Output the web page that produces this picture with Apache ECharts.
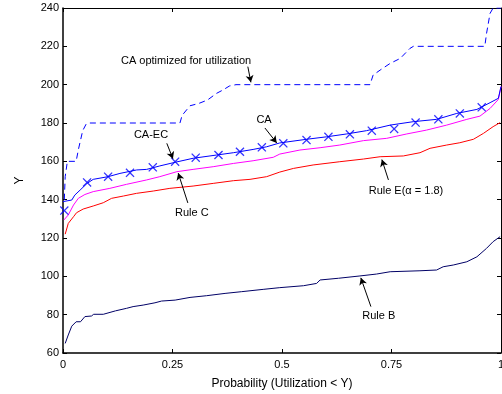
<!DOCTYPE html>
<html>
<head>
<meta charset="utf-8">
<script src="https://cdn.jsdelivr.net/npm/echarts@6/dist/echarts.min.js"></script>
<style>html,body{margin:0;padding:0;background:#fff}#c{width:502px;height:394px}</style>
</head>
<body>
<div id="c"></div>
<script>
// ---- data (x = probability, y = Y) ----
const xTicks = [0, 0.25, 0.5, 0.75, 1];
const yTicks = [60, 80, 100, 120, 140, 160, 180, 200, 220, 240];

const ruleB = [[0.005,65],[0.012,69.4],[0.02,74],[0.03,76.3],[0.04,76.3],[0.05,79],[0.065,79.3],[0.07,80.2],[0.092,80.2],[0.096,81.2],[0.12,82],[0.145,83.3],[0.16,84.2],[0.183,85],[0.21,86.2],[0.225,87.1],[0.256,87.6],[0.29,89],[0.328,89.9],[0.37,91.1],[0.408,92],[0.457,93.2],[0.495,94.1],[0.549,95.1],[0.579,96.3],[0.587,98.1],[0.629,99],[0.678,100.2],[0.716,101.2],[0.747,102.4],[0.815,102.9],[0.853,103.3],[0.868,105],[0.891,105.9],[0.922,107.6],[0.945,110.2],[0.967,114.6],[0.982,118.1],[0.998,120.7]];

const ruleE = [[0.005,122],[0.012,127.6],[0.024,131.1],[0.031,133.2],[0.046,135.1],[0.069,136.7],[0.092,138.4],[0.111,140.7],[0.138,141.9],[0.168,143.3],[0.206,144.5],[0.244,145.9],[0.297,147.1],[0.343,148.5],[0.389,149.9],[0.427,150.6],[0.465,152],[0.495,154.4],[0.526,156.3],[0.571,158.1],[0.632,159.8],[0.686,161.2],[0.724,162.4],[0.777,162.8],[0.815,164.5],[0.838,166.8],[0.876,168.5],[0.906,169.7],[0.937,171.5],[0.96,174.6],[0.982,178.1],[0.998,180.2]];

const ruleC = [[0.002,129.4],[0.012,132],[0.024,137.2],[0.035,140.7],[0.05,142.7],[0.069,144.2],[0.107,145.9],[0.145,148],[0.191,150.3],[0.221,152],[0.26,154.6],[0.297,155.8],[0.343,157.2],[0.389,158.9],[0.434,160.3],[0.48,162.1],[0.495,163.8],[0.541,165.9],[0.587,167.1],[0.632,168.5],[0.686,170.8],[0.739,172],[0.785,174.3],[0.83,176.3],[0.876,178.9],[0.922,181.9],[0.952,183.6],[0.975,187.6],[0.994,192.3],[1,199]];

const ca = [[0,139],[0.02,139.8],[0.027,142.4],[0.039,145],[0.055,148.5],[0.069,150.6],[0.103,152],[0.13,153.7],[0.168,155.5],[0.191,155.8],[0.221,157.6],[0.256,159.5],[0.297,161.6],[0.351,163.3],[0.389,164.5],[0.434,166.2],[0.465,167.6],[0.495,169.6],[0.556,171.5],[0.602,172.8],[0.648,174.3],[0.693,176],[0.747,178.9],[0.8,180.7],[0.853,181.9],[0.899,185],[0.945,187.1],[0.975,190.6],[0.994,192.9],[1,199]];

const caEC = [[0.003,134.3],[0.055,149],[0.103,152],[0.153,154],[0.205,156.9],[0.256,159.8],[0.303,161.9],[0.355,163.3],[0.404,165],[0.454,167.3],[0.503,169.4],[0.556,171.1],[0.606,172.8],[0.655,174.1],[0.705,176],[0.756,176.9],[0.805,180.2],[0.857,181.9],[0.906,185],[0.956,188.2]];

const caOpt = [[0.003,140],[0.005,152],[0.01,160],[0.03,160],[0.035,166],[0.045,176],[0.053,179.5],[0.06,180],[0.267,180],[0.272,184],[0.29,189],[0.31,190.2],[0.33,192],[0.35,195.4],[0.365,197.2],[0.38,199.3],[0.395,200],[0.701,200],[0.708,205],[0.724,207.6],[0.747,211.1],[0.77,213.7],[0.792,218.9],[0.8,220],[0.963,220],[0.967,226.7],[0.975,237.2],[0.982,240],[1,240]];

// annotation texts and arrows (data coordinates)
const annTexts = [
  {t:'CA optimized for utilization', p:[0.281,212.5]},
  {t:'CA-EC', p:[0.201,173.7]},
  {t:'CA', p:[0.459,181.6]},
  {t:'Rule C', p:[0.294,133.2]},
  {t:'Rule E(\u03b1 = 1.8)', p:[0.783,144.7]},
  {t:'Rule B', p:[0.721,79.3]}
];
const annArrows = [
  [[0.422,209.4],[0.429,201.2]],
  [[0.237,169.4],[0.251,161.3]],
  [[0.461,177.4],[0.488,169.6]],
  [[0.285,138.3],[0.263,153.9]],
  [[0.743,150.3],[0.728,160.9]],
  [[0.703,84.2],[0.68,99.2]]
];

const FONT = 'Liberation Sans';
const xSym = 'path://M0,1L1,0L5,4L9,0L10,1L6,5L10,9L9,10L5,6L1,10L0,9L4,5Z';

const chart = echarts.init(document.getElementById('c'), null, {renderer:'canvas'});
const axisLineStyle = {color:'#000', width:1.5};
const line = (name, data, color, extra) => Object.assign({
  name, type:'line', data, showSymbol:false, symbol:'none', animation:false,
  lineStyle:{color, width:1}, itemStyle:{color}, z:3
}, extra || {});

chart.setOption({
  animation:false,
  grid:{left:63, right:1, top:8, bottom:41, containLabel:false, outerBoundsMode:'none'},
  xAxis:[{
    type:'value', min:0, max:1, interval:0.25,
    name:'Probability (Utilization < Y)', nameLocation:'middle', nameGap:25,
    nameTextStyle:{fontFamily:FONT, fontSize:12, color:'#000'},
    axisLine:{show:true, onZero:false, lineStyle:axisLineStyle},
    axisTick:{show:true, inside:true, length:4, lineStyle:{color:'#000'}},
    axisLabel:{fontFamily:FONT, fontSize:11, color:'#000', margin:6,
      formatter:v => xTicks.includes(v) ? String(v) : ''},
    splitLine:{show:false}
  },{
    type:'value', min:0, max:1, interval:0.25, position:'top',
    axisLine:{show:true, onZero:false, lineStyle:{color:'#000', width:1}},
    axisTick:{show:true, inside:true, length:4, lineStyle:{color:'#000'}},
    axisLabel:{show:false}, splitLine:{show:false}
  }],
  yAxis:[{
    type:'value', min:60, max:240, interval:20,
    name:'Y', nameLocation:'middle', nameGap:37, nameRotate:90,
    nameTextStyle:{fontFamily:FONT, fontSize:12, color:'#000'},
    axisLine:{show:true, onZero:false, lineStyle:axisLineStyle},
    axisTick:{show:true, inside:true, length:4, lineStyle:{color:'#000'}},
    axisLabel:{fontFamily:FONT, fontSize:11, color:'#000', margin:4,
      formatter:v => yTicks.includes(v) ? String(v) : ''},
    splitLine:{show:false}
  },{
    type:'value', min:60, max:240, interval:20, position:'right',
    axisLine:{show:true, onZero:false, lineStyle:{color:'#000', width:1}},
    axisTick:{show:true, inside:true, length:4, lineStyle:{color:'#000'}},
    axisLabel:{show:false}, splitLine:{show:false}
  }],
  series:[
    line('Rule B', ruleB, '#000066'),
    line('Rule E(\u03b1 = 1.8)', ruleE, '#ff0000'),
    line('Rule C', ruleC, '#ff00ff'),
    line('CA', ca, '#0000ff'),
    line('CA optimized for utilization', caOpt, '#0000ff', {lineStyle:{color:'#0000ff', width:1, type:[6,4]}}),
    {
      name:'CA-EC', type:'scatter', data:caEC, symbol:xSym, symbolSize:9,
      itemStyle:{color:'#0000ff'}, z:4, animation:false
    },
    {
      name:'annotations', type:'line', data:[], animation:false, silent:true,
      markLine:{
        silent:true, animation:false, symbol:['none','arrow'], symbolSize:[6,7],
        label:{show:false},
        lineStyle:{color:'#000', width:1, type:'solid'},
        data: annArrows.map(a => [{coord:a[0]},{coord:a[1]}])
      },
      markPoint:{
        silent:true, animation:false, symbol:'circle', symbolSize:0,
        label:{show:true, position:'inside', color:'#000', fontFamily:FONT, fontSize:11,
          formatter: p => p.name},
        data: annTexts.map(a => ({name:a.t, coord:a.p}))
      }
    }
  ]
});
</script>
</body>
</html>
